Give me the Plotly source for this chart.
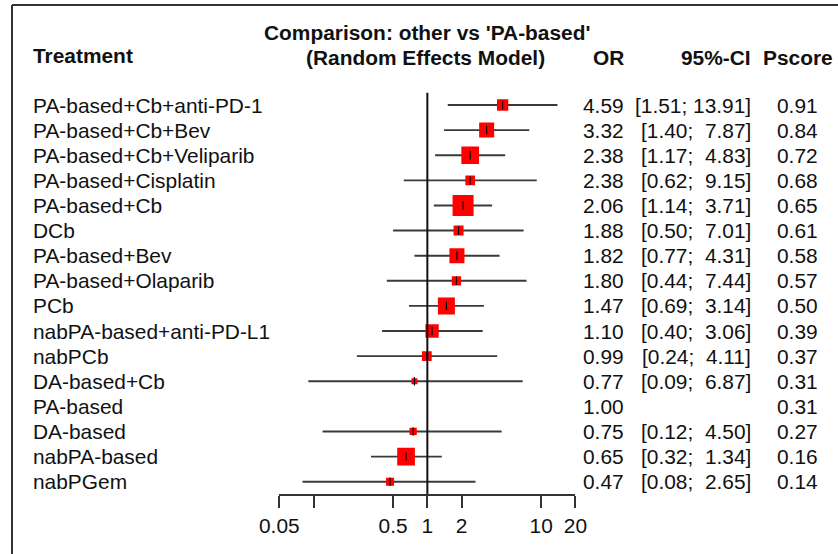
import math
import plotly.graph_objects as go

# ---------------- data ----------------
treatments = [
    "PA-based+Cb+anti-PD-1", "PA-based+Cb+Bev", "PA-based+Cb+Veliparib",
    "PA-based+Cisplatin", "PA-based+Cb", "DCb", "PA-based+Bev",
    "PA-based+Olaparib", "PCb", "nabPA-based+anti-PD-L1", "nabPCb",
    "DA-based+Cb", "PA-based", "DA-based", "nabPA-based", "nabPGem",
]
odds_ratio = [4.59, 3.32, 2.38, 2.38, 2.06, 1.88, 1.82, 1.80, 1.47, 1.10,
              0.99, 0.77, 1.00, 0.75, 0.65, 0.47]
ci_lower = [1.51, 1.40, 1.17, 0.62, 1.14, 0.50, 0.77, 0.44, 0.69, 0.40,
            0.24, 0.09, None, 0.12, 0.32, 0.08]
ci_upper = [13.91, 7.87, 4.83, 9.15, 3.71, 7.01, 4.31, 7.44, 3.14, 3.06,
            4.11, 6.87, None, 4.50, 1.34, 2.65]
pscore = [0.91, 0.84, 0.72, 0.68, 0.65, 0.61, 0.58, 0.57, 0.50, 0.39,
          0.37, 0.31, 0.31, 0.27, 0.16, 0.14]
tick_values = [0.05, 0.1, 0.5, 1, 2, 10, 20]
tick_labels = ["0.05", "", "0.5", "1", "2", "10", "20"]

# ---------------- styles ----------------
square_px = [11.3, 15, 17.7, 9.7, 21, 10, 15, 9.3, 17, 13.3, 9.7, 6, 0, 7.3, 17.7, 8]
W, H = 838, 554
FONT = "Liberation Sans, Arial, sans-serif"
FS = 20.9
TXT = "#111111"
LINE = "#333333"

def px_x(p):
    return p / W

def px_y(p):
    return 1 - p / H

rows = list(range(1, len(treatments) + 1))

fig = go.Figure()

# CI lines
lx, ly = [], []
for r, lo, hi in zip(rows, ci_lower, ci_upper):
    if lo is None:
        continue
    lx += [lo, hi, None]
    ly += [r, r, None]
fig.add_trace(go.Scatter(x=lx, y=ly, mode="lines",
                         line=dict(color="#3a3a3a", width=1.9),
                         hoverinfo="skip", showlegend=False))

# squares
sx = [o for o, lo in zip(odds_ratio, ci_lower) if lo is not None]
sy = [r for r, lo in zip(rows, ci_lower) if lo is not None]
ss = [s for s, lo in zip(square_px, ci_lower) if lo is not None]
fig.add_trace(go.Scatter(x=sx, y=sy, mode="markers",
                         marker=dict(symbol="square", color="#FF0000", size=ss,
                                     opacity=1, line=dict(width=0)),
                         hoverinfo="skip", showlegend=False))
# point-estimate ticks
fig.add_trace(go.Scatter(x=sx, y=sy, mode="markers",
                         marker=dict(symbol="line-ns", size=6, opacity=1,
                                     line=dict(color="#000000", width=1.1)),
                         hoverinfo="skip", showlegend=False))

annotations = []

def ann(text, x, y, xanchor, yref="paper", bold=False, size=FS):
    if bold:
        text = "<b>" + text + "</b>"
    annotations.append(dict(text=text, x=x, y=y, xref="paper", yref=yref,
                            xanchor=xanchor, yanchor="middle", showarrow=False,
                            font=dict(family=FONT, size=size, color=TXT)))

# headers
ann("Treatment", px_x(31), px_y(56), "left", bold=True)
ann("Comparison: other vs 'PA-based'", px_x(427), px_y(33), "center", bold=True)
ann("(Random Effects Model)", px_x(425), px_y(57), "center", bold=True)
ann("OR", px_x(626), px_y(57), "right", bold=True)
ann("95%-CI", px_x(753), px_y(57), "right", bold=True)
ann("Pscore", px_x(797.5), px_y(57), "center", bold=True)

# row texts
up_width = max(len(f"{u:.2f}") for u in ci_upper if u is not None)
for r, name, o, lo, hi, p in zip(rows, treatments, odds_ratio, ci_lower, ci_upper, pscore):
    ann(name, px_x(31), r, "left", yref="y")
    ann(f"{o:.2f}", px_x(626), r, "right", yref="y")
    if lo is not None:
        us = f"{hi:.2f}"
        us = "\u00a0" * (up_width - len(us)) + us
        ann(f"[{lo:.2f};\u00a0{us}]", px_x(753), r, "right", yref="y")
    ann(f"{p:.2f}", px_x(797.5), r, "center", yref="y")

shapes = [
    # reference line at OR = 1
    dict(type="line", xref="x", yref="y domain", x0=1, x1=1, y0=0, y1=1,
         line=dict(color="#111111", width=2)),
    # frame (left + top)
    dict(type="line", xref="paper", yref="paper", x0=px_x(12), x1=px_x(12),
         y0=px_y(5), y1=0, line=dict(color="#333333", width=2)),
    dict(type="line", xref="paper", yref="paper", x0=px_x(12), x1=1,
         y0=px_y(5), y1=px_y(5), line=dict(color="#333333", width=2)),
]

fig.update_layout(
    width=W, height=H, autosize=False,
    margin=dict(l=0, r=0, t=0, b=0, pad=0, autoexpand=False),
    paper_bgcolor="white", plot_bgcolor="white",
    annotations=annotations, shapes=shapes,
    xaxis=dict(type="log", range=[math.log10(0.05), math.log10(20)],
               domain=[px_x(279.3), px_x(575.4)], automargin=False,
               showline=True, linecolor=LINE, linewidth=1.7,
               ticks="outside", ticklen=12, tickwidth=1.7, tickcolor=LINE,
               tickvals=tick_values, ticktext=tick_labels,
               tickfont=dict(family=FONT, size=FS, color=TXT),
               showgrid=False, zeroline=False, fixedrange=True),
    yaxis=dict(visible=False, range=[16.49, 0.51], automargin=False,
               domain=[px_y(494), px_y(92.7)], fixedrange=True),
    showlegend=False,
)

fig.write_html("out.html")
